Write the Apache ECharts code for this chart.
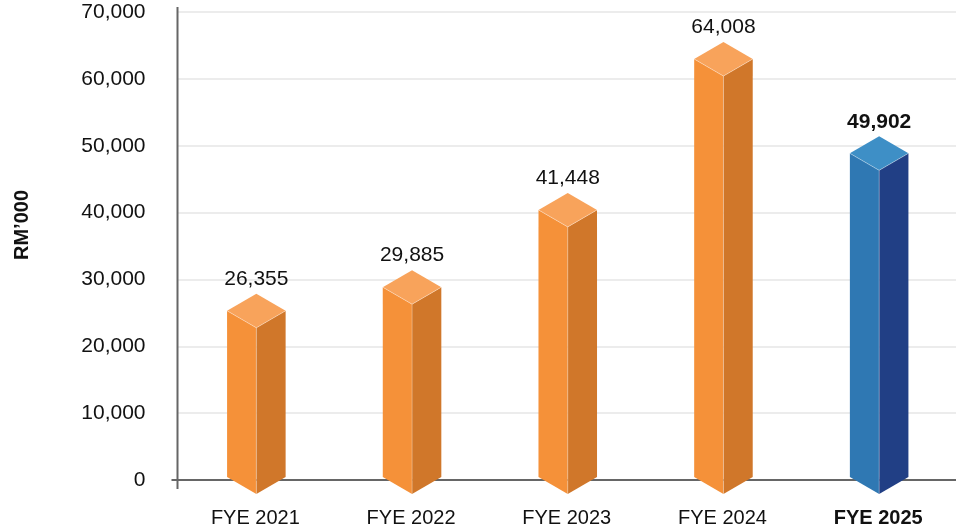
<!DOCTYPE html>
<html>
<head>
<meta charset="utf-8">
<script src="https://cdn.jsdelivr.net/npm/echarts@6/dist/echarts.min.js"></script>
<style>
  html, body { margin: 0; padding: 0; background: #fff; }
  #chart { width: 956px; height: 530px; }
</style>
</head>
<body>
<div id="chart"></div>
<script>
// revenue by financial year, RM'000
const categories = ["FYE 2021", "FYE 2022", "FYE 2023", "FYE 2024", "FYE 2025"];
const values = [26355, 29885, 41448, 64008, 49902];
const yTicks = [0, 10000, 20000, 30000, 40000, 50000, 60000, 70000];
const currentYear = "FYE 2025";

const ORANGE = { front: "#f59139", side: "#d0772a", top: "#f8a35b" };
const BLUE = { front: "#2f78b3", side: "#213f85", top: "#3e8fc6" };
const FONT = "'Liberation Sans', Arial, Helvetica, sans-serif";

const fmt = (v) => Number(v).toLocaleString("en-US");

function renderPrism(params, api) {
  const idx = api.value(0);
  const v = api.value(1);
  const top = api.coord([idx, v]);
  const base = api.coord([idx, 0]);
  const halfW = api.size([1, 0])[0] * 0.188;
  const cx = top[0] + 1;
  const dh = 17;

  const sideTop = top[1] + 7;
  const peak = sideTop - dh;
  const frontTop = sideTop + dh;
  const sideBot = base[1] - 3;
  const botV = base[1] + 14;
  const L = cx - halfW, R = cx + halfW;

  const isCurrent = categories[idx] === currentYear;
  const c = isCurrent ? BLUE : ORANGE;

  return {
    type: "group",
    children: [
      {
        type: "polygon",
        shape: { points: [[L, sideTop], [cx, frontTop], [cx, botV], [L, sideBot]] },
        style: { fill: c.front },
      },
      {
        type: "polygon",
        shape: { points: [[cx, frontTop], [R, sideTop], [R, sideBot], [cx, botV]] },
        style: { fill: c.side },
      },
      {
        type: "polygon",
        shape: { points: [[L, sideTop], [cx, peak], [R, sideTop], [cx, frontTop]] },
        style: { fill: c.top },
      },
      {
        type: "polyline",
        shape: { points: [[L, sideTop], [cx, frontTop], [R, sideTop]] },
        style: { stroke: "rgba(255,255,255,0.35)", lineWidth: 1, fill: null },
      },
      {
        type: "line",
        shape: { x1: cx, y1: frontTop, x2: cx, y2: botV },
        style: { stroke: "rgba(255,255,255,0.3)", lineWidth: 1 },
      },
      {
        type: "text",
        style: {
          x: cx,
          y: peak - 4,
          text: fmt(v),
          align: "center",
          verticalAlign: "bottom",
          fill: "#111",
          font: (isCurrent ? "bold " : "") + "21px " + FONT,
        },
      },
    ],
  };
}

const chart = echarts.init(document.getElementById("chart"));

chart.setOption({
  backgroundColor: "#fff",
  animation: false,
  grid: { left: 177.5, top: 12, width: 788, bottom: 50, containLabel: false },
  xAxis: {
    type: "category",
    data: categories,
    axisLine: { show: false },
    axisTick: { show: false },
    axisLabel: {
      margin: 28,
      color: "#111",
      fontFamily: FONT,
      fontSize: 20,
      formatter: (v) => (v === currentYear ? "{b|" + v + "}" : v),
      rich: { b: { fontWeight: "bold", fontSize: 20, fontFamily: FONT, color: "#111" } },
    },
  },
  yAxis: {
    type: "value",
    min: yTicks[0],
    max: yTicks[yTicks.length - 1],
    interval: yTicks[1] - yTicks[0],
    axisLine: { show: false },
    axisTick: { show: false },
    axisLabel: {
      margin: 32,
      color: "#111",
      fontFamily: FONT,
      fontSize: 21,
      padding: [5, 0, 0, 0],
      formatter: fmt,
    },
    splitLine: { lineStyle: { color: "#e6e6e6", width: 1.5 } },
  },
  series: [
    {
      type: "custom",
      renderItem: renderPrism,
      clip: false,
      z: 3,
      data: values.map((v, i) => [i, v]),
      encode: { x: 0, y: 1 },
    },
  ],
});

// axis lines overshoot the crossing point slightly, draw them as graphics
const origin = chart.convertToPixel({ gridIndex: 0 }, [0, 0]);
const axisX = 177.5;
const topY = chart.convertToPixel({ yAxisIndex: 0 }, yTicks[yTicks.length - 1]);
chart.setOption({
  graphic: [
    {
      type: "line",
      z: 1,
      shape: { x1: axisX, y1: topY - 5, x2: axisX, y2: origin[1] + 9 },
      style: { stroke: "#666", lineWidth: 2 },
    },
    {
      type: "line",
      z: 1,
      shape: { x1: axisX - 6, y1: origin[1], x2: 956, y2: origin[1] },
      style: { stroke: "#666", lineWidth: 2 },
    },
    {
      type: "text",
      x: 22,
      y: 225,
      rotation: Math.PI / 2,
      style: {
        text: "RM’000",
        align: "center",
        verticalAlign: "middle",
        fill: "#111",
        font: "bold 20px " + FONT,
      },
    },
  ],
});
</script>
</body>
</html>
